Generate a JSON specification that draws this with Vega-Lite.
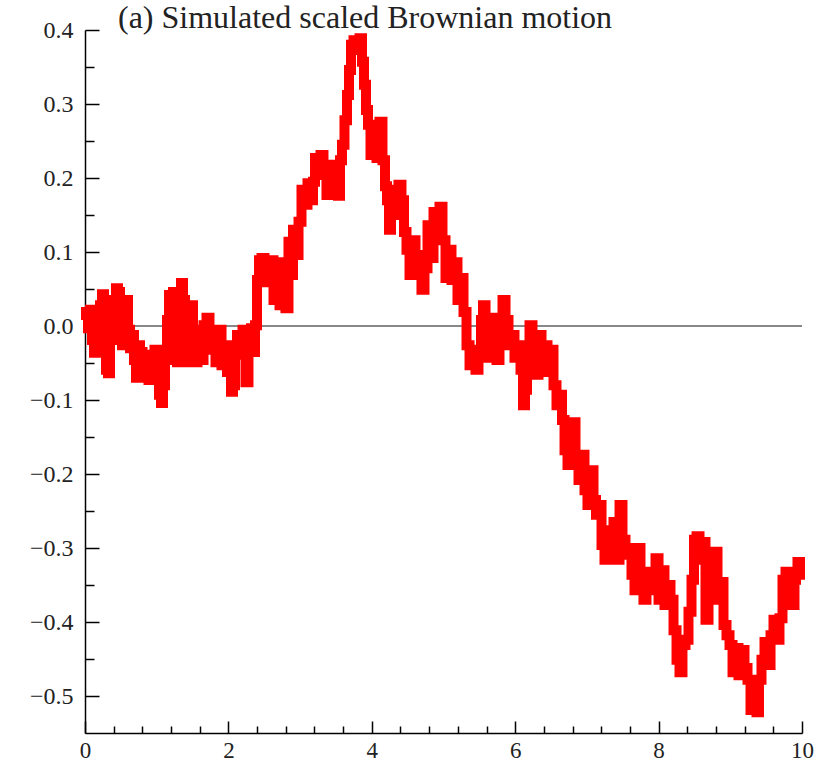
{
  "$schema": "https://vega.github.io/schema/vega-lite/v6.json",
  "width": 717,
  "height": 703,
  "autosize": "none",
  "padding": {"left": 85, "top": 30, "right": 16, "bottom": 28},
  "background": "white",
  "config": {"view": {"stroke": null}},
  "title": {
    "text": "(a) Simulated scaled Brownian motion",
    "anchor": "start",
    "frame": "group",
    "dx": 33,
    "offset": -17,
    "font": "Liberation Serif",
    "fontSize": 32,
    "fontWeight": "normal",
    "color": "#222"
  },
  "data": {"values": [
    {"t":0.000,"w":0.008},{"t":0.028,"w":0.019},{"t":0.056,"w":-0.003},{"t":0.084,"w":0.022},{"t":0.112,"w":-0.019},{"t":0.139,"w":-0.036},{"t":0.167,"w":-0.012},{"t":0.195,"w":-0.032},{"t":0.223,"w":0.028},{"t":0.251,"w":0.043},{"t":0.279,"w":0.008},{"t":0.307,"w":-0.059},{"t":0.335,"w":-0.064},{"t":0.363,"w":-0.019},{"t":0.391,"w":0.014},{"t":0.418,"w":0.035},{"t":0.446,"w":0.051},{"t":0.474,"w":0.046},{"t":0.502,"w":0.022},{"t":0.530,"w":-0.026},{"t":0.558,"w":0.008},{"t":0.586,"w":0.035},{"t":0.614,"w":-0.005},{"t":0.642,"w":-0.030},{"t":0.669,"w":-0.012},{"t":0.697,"w":-0.046},{"t":0.725,"w":-0.070},{"t":0.753,"w":-0.026},{"t":0.781,"w":-0.035},{"t":0.823,"w":-0.070},{"t":0.865,"w":-0.039},{"t":0.907,"w":-0.073},{"t":0.948,"w":-0.053},{"t":0.990,"w":-0.032},{"t":1.018,"w":-0.062},{"t":1.046,"w":-0.093},{"t":1.074,"w":-0.104},{"t":1.102,"w":-0.080},{"t":1.130,"w":-0.046},{"t":1.158,"w":0.008},{"t":1.186,"w":0.042},{"t":1.213,"w":0.022},{"t":1.241,"w":0.046},{"t":1.269,"w":-0.019},{"t":1.297,"w":-0.049},{"t":1.325,"w":-0.005},{"t":1.353,"w":0.058},{"t":1.381,"w":0.035},{"t":1.409,"w":0.001},{"t":1.437,"w":-0.049},{"t":1.464,"w":-0.026},{"t":1.492,"w":0.028},{"t":1.520,"w":-0.005},{"t":1.548,"w":-0.049},{"t":1.590,"w":-0.019},{"t":1.632,"w":-0.046},{"t":1.674,"w":0.001},{"t":1.715,"w":0.011},{"t":1.757,"w":-0.032},{"t":1.799,"w":-0.005},{"t":1.841,"w":-0.049},{"t":1.883,"w":-0.005},{"t":1.925,"w":-0.053},{"t":1.967,"w":-0.026},{"t":1.994,"w":-0.062},{"t":2.022,"w":-0.039},{"t":2.050,"w":-0.089},{"t":2.078,"w":-0.080},{"t":2.106,"w":-0.035},{"t":2.134,"w":-0.012},{"t":2.176,"w":-0.039},{"t":2.218,"w":-0.005},{"t":2.259,"w":-0.076},{"t":2.301,"w":-0.026},{"t":2.329,"w":-0.003},{"t":2.357,"w":-0.035},{"t":2.385,"w":0.001},{"t":2.413,"w":0.062},{"t":2.441,"w":0.089},{"t":2.483,"w":0.092},{"t":2.524,"w":0.059},{"t":2.566,"w":0.086},{"t":2.608,"w":0.089},{"t":2.650,"w":0.035},{"t":2.692,"w":0.076},{"t":2.734,"w":0.028},{"t":2.775,"w":0.086},{"t":2.817,"w":0.024},{"t":2.859,"w":0.114},{"t":2.887,"w":0.069},{"t":2.915,"w":0.130},{"t":2.957,"w":0.096},{"t":2.999,"w":0.141},{"t":3.040,"w":0.184},{"t":3.082,"w":0.164},{"t":3.124,"w":0.193},{"t":3.166,"w":0.170},{"t":3.194,"w":0.195},{"t":3.222,"w":0.227},{"t":3.264,"w":0.211},{"t":3.305,"w":0.231},{"t":3.347,"w":0.204},{"t":3.389,"w":0.177},{"t":3.431,"w":0.218},{"t":3.473,"w":0.184},{"t":3.515,"w":0.214},{"t":3.543,"w":0.176},{"t":3.570,"w":0.224},{"t":3.598,"w":0.245},{"t":3.640,"w":0.278},{"t":3.668,"w":0.312},{"t":3.696,"w":0.346},{"t":3.724,"w":0.380},{"t":3.766,"w":0.386},{"t":3.808,"w":0.373},{"t":3.849,"w":0.389},{"t":3.877,"w":0.357},{"t":3.905,"w":0.326},{"t":3.933,"w":0.292},{"t":3.961,"w":0.272},{"t":4.003,"w":0.231},{"t":4.045,"w":0.272},{"t":4.086,"w":0.227},{"t":4.128,"w":0.276},{"t":4.170,"w":0.224},{"t":4.198,"w":0.189},{"t":4.226,"w":0.170},{"t":4.254,"w":0.130},{"t":4.282,"w":0.170},{"t":4.310,"w":0.184},{"t":4.351,"w":0.150},{"t":4.393,"w":0.191},{"t":4.435,"w":0.170},{"t":4.463,"w":0.127},{"t":4.505,"w":0.103},{"t":4.547,"w":0.069},{"t":4.589,"w":0.116},{"t":4.630,"w":0.082},{"t":4.672,"w":0.096},{"t":4.714,"w":0.049},{"t":4.756,"w":0.078},{"t":4.798,"w":0.136},{"t":4.840,"w":0.092},{"t":4.881,"w":0.154},{"t":4.923,"w":0.123},{"t":4.965,"w":0.161},{"t":5.007,"w":0.116},{"t":5.049,"w":0.065},{"t":5.091,"w":0.103},{"t":5.132,"w":0.062},{"t":5.174,"w":0.086},{"t":5.216,"w":0.035},{"t":5.258,"w":0.065},{"t":5.300,"w":0.019},{"t":5.342,"w":-0.026},{"t":5.384,"w":-0.053},{"t":5.425,"w":-0.032},{"t":5.467,"w":-0.059},{"t":5.509,"w":-0.039},{"t":5.537,"w":0.008},{"t":5.565,"w":0.028},{"t":5.607,"w":-0.026},{"t":5.649,"w":-0.043},{"t":5.676,"w":-0.005},{"t":5.718,"w":0.011},{"t":5.760,"w":-0.046},{"t":5.802,"w":-0.012},{"t":5.844,"w":0.035},{"t":5.886,"w":0.008},{"t":5.927,"w":-0.026},{"t":5.969,"w":-0.012},{"t":6.011,"w":-0.043},{"t":6.053,"w":-0.026},{"t":6.095,"w":-0.059},{"t":6.123,"w":-0.107},{"t":6.151,"w":-0.086},{"t":6.179,"w":-0.032},{"t":6.220,"w":0.001},{"t":6.262,"w":-0.026},{"t":6.304,"w":-0.066},{"t":6.346,"w":-0.012},{"t":6.388,"w":-0.046},{"t":6.430,"w":-0.026},{"t":6.471,"w":-0.062},{"t":6.513,"w":-0.032},{"t":6.555,"w":-0.080},{"t":6.597,"w":-0.107},{"t":6.639,"w":-0.093},{"t":6.667,"w":-0.127},{"t":6.709,"w":-0.168},{"t":6.750,"w":-0.188},{"t":6.778,"w":-0.141},{"t":6.820,"w":-0.130},{"t":6.862,"w":-0.181},{"t":6.904,"w":-0.208},{"t":6.946,"w":-0.174},{"t":6.987,"w":-0.222},{"t":7.029,"w":-0.242},{"t":7.071,"w":-0.195},{"t":7.113,"w":-0.235},{"t":7.141,"w":-0.255},{"t":7.183,"w":-0.242},{"t":7.225,"w":-0.296},{"t":7.266,"w":-0.316},{"t":7.308,"w":-0.276},{"t":7.350,"w":-0.309},{"t":7.392,"w":-0.265},{"t":7.434,"w":-0.316},{"t":7.476,"w":-0.242},{"t":7.517,"w":-0.289},{"t":7.559,"w":-0.309},{"t":7.601,"w":-0.300},{"t":7.643,"w":-0.336},{"t":7.685,"w":-0.357},{"t":7.727,"w":-0.300},{"t":7.768,"w":-0.336},{"t":7.810,"w":-0.370},{"t":7.852,"w":-0.332},{"t":7.894,"w":-0.357},{"t":7.936,"w":-0.332},{"t":7.978,"w":-0.314},{"t":8.020,"w":-0.370},{"t":8.061,"w":-0.330},{"t":8.103,"w":-0.377},{"t":8.145,"w":-0.350},{"t":8.187,"w":-0.370},{"t":8.229,"w":-0.411},{"t":8.271,"w":-0.451},{"t":8.312,"w":-0.468},{"t":8.354,"w":-0.431},{"t":8.396,"w":-0.424},{"t":8.438,"w":-0.386},{"t":8.480,"w":-0.343},{"t":8.508,"w":-0.289},{"t":8.550,"w":-0.284},{"t":8.591,"w":-0.316},{"t":8.633,"w":-0.292},{"t":8.675,"w":-0.397},{"t":8.717,"w":-0.364},{"t":8.759,"w":-0.323},{"t":8.801,"w":-0.305},{"t":8.842,"w":-0.370},{"t":8.884,"w":-0.346},{"t":8.926,"w":-0.404},{"t":8.968,"w":-0.418},{"t":9.010,"w":-0.431},{"t":9.052,"w":-0.468},{"t":9.093,"w":-0.435},{"t":9.135,"w":-0.472},{"t":9.177,"w":-0.438},{"t":9.219,"w":-0.462},{"t":9.261,"w":-0.478},{"t":9.303,"w":-0.519},{"t":9.344,"w":-0.505},{"t":9.386,"w":-0.522},{"t":9.414,"w":-0.478},{"t":9.456,"w":-0.451},{"t":9.498,"w":-0.427},{"t":9.540,"w":-0.458},{"t":9.582,"w":-0.418},{"t":9.623,"w":-0.397},{"t":9.665,"w":-0.424},{"t":9.707,"w":-0.395},{"t":9.749,"w":-0.343},{"t":9.791,"w":-0.332},{"t":9.833,"w":-0.370},{"t":9.874,"w":-0.377},{"t":9.916,"w":-0.336},{"t":9.958,"w":-0.319},{"t":9.986,"w":-0.343}
  ]},
  "encoding": {
    "x": {
      "field": "t", "type": "quantitative",
      "scale": {"domain": [0, 10], "nice": false, "zero": false},
      "axis": {
        "title": null, "grid": false,
        "values": [0,0.4,0.8,1.2,1.6,2,2.4,2.8,3.2,3.6,4,4.4,4.8,5.2,5.6,6,6.4,6.8,7.2,7.6,8,8.4,8.8,9.2,9.6,10],
        "labelExpr": "abs(datum.value/2 - round(datum.value/2)) < 1e-6 ? format(datum.value, 'd') : ''",
        "tickSize": {"condition": {"test": "abs(datum.value/2 - round(datum.value/2)) < 1e-6", "value": -12}, "value": -7},
        "tickColor": "#000", "tickWidth": 1.5,
        "domainColor": "#000", "domainWidth": 1.5,
        "labelFont": "Liberation Serif", "labelFontSize": 23, "labelColor": "#222",
        "labelPadding": 18, "labelFlush": false, "labelOverlap": false
      }
    },
    "y": {
      "field": "w", "type": "quantitative",
      "scale": {"domain": [-0.55, 0.4], "nice": false, "zero": false},
      "axis": {
        "title": null, "grid": false,
        "values": [-0.5,-0.45,-0.4,-0.35,-0.3,-0.25,-0.2,-0.15,-0.1,-0.05,0,0.05,0.1,0.15,0.2,0.25,0.3,0.35,0.4],
        "labelExpr": "abs(datum.value*10 - round(datum.value*10)) < 1e-6 ? format(datum.value, '.1f') : ''",
        "tickSize": {"condition": {"test": "abs(datum.value*10 - round(datum.value*10)) < 1e-6", "value": -14}, "value": -9},
        "tickColor": "#000", "tickWidth": 1.5,
        "domainColor": "#000", "domainWidth": 1.5,
        "labelFont": "Liberation Serif", "labelFontSize": 24, "labelColor": "#222",
        "labelPadding": 26, "labelFlush": false, "labelOverlap": false
      }
    }
  },
  "layer": [
    {
      "mark": {"type": "rule", "color": "#888888", "strokeWidth": 1.5},
      "encoding": {"y": {"datum": 0}, "x": {"datum": 0}, "x2": {"datum": 10}}
    },
    {
      "mark": {"type": "line", "color": "#ff0000", "strokeWidth": 10, "interpolate": "step", "strokeJoin": "miter", "strokeCap": "butt", "clip": false}
    }
  ]
}
